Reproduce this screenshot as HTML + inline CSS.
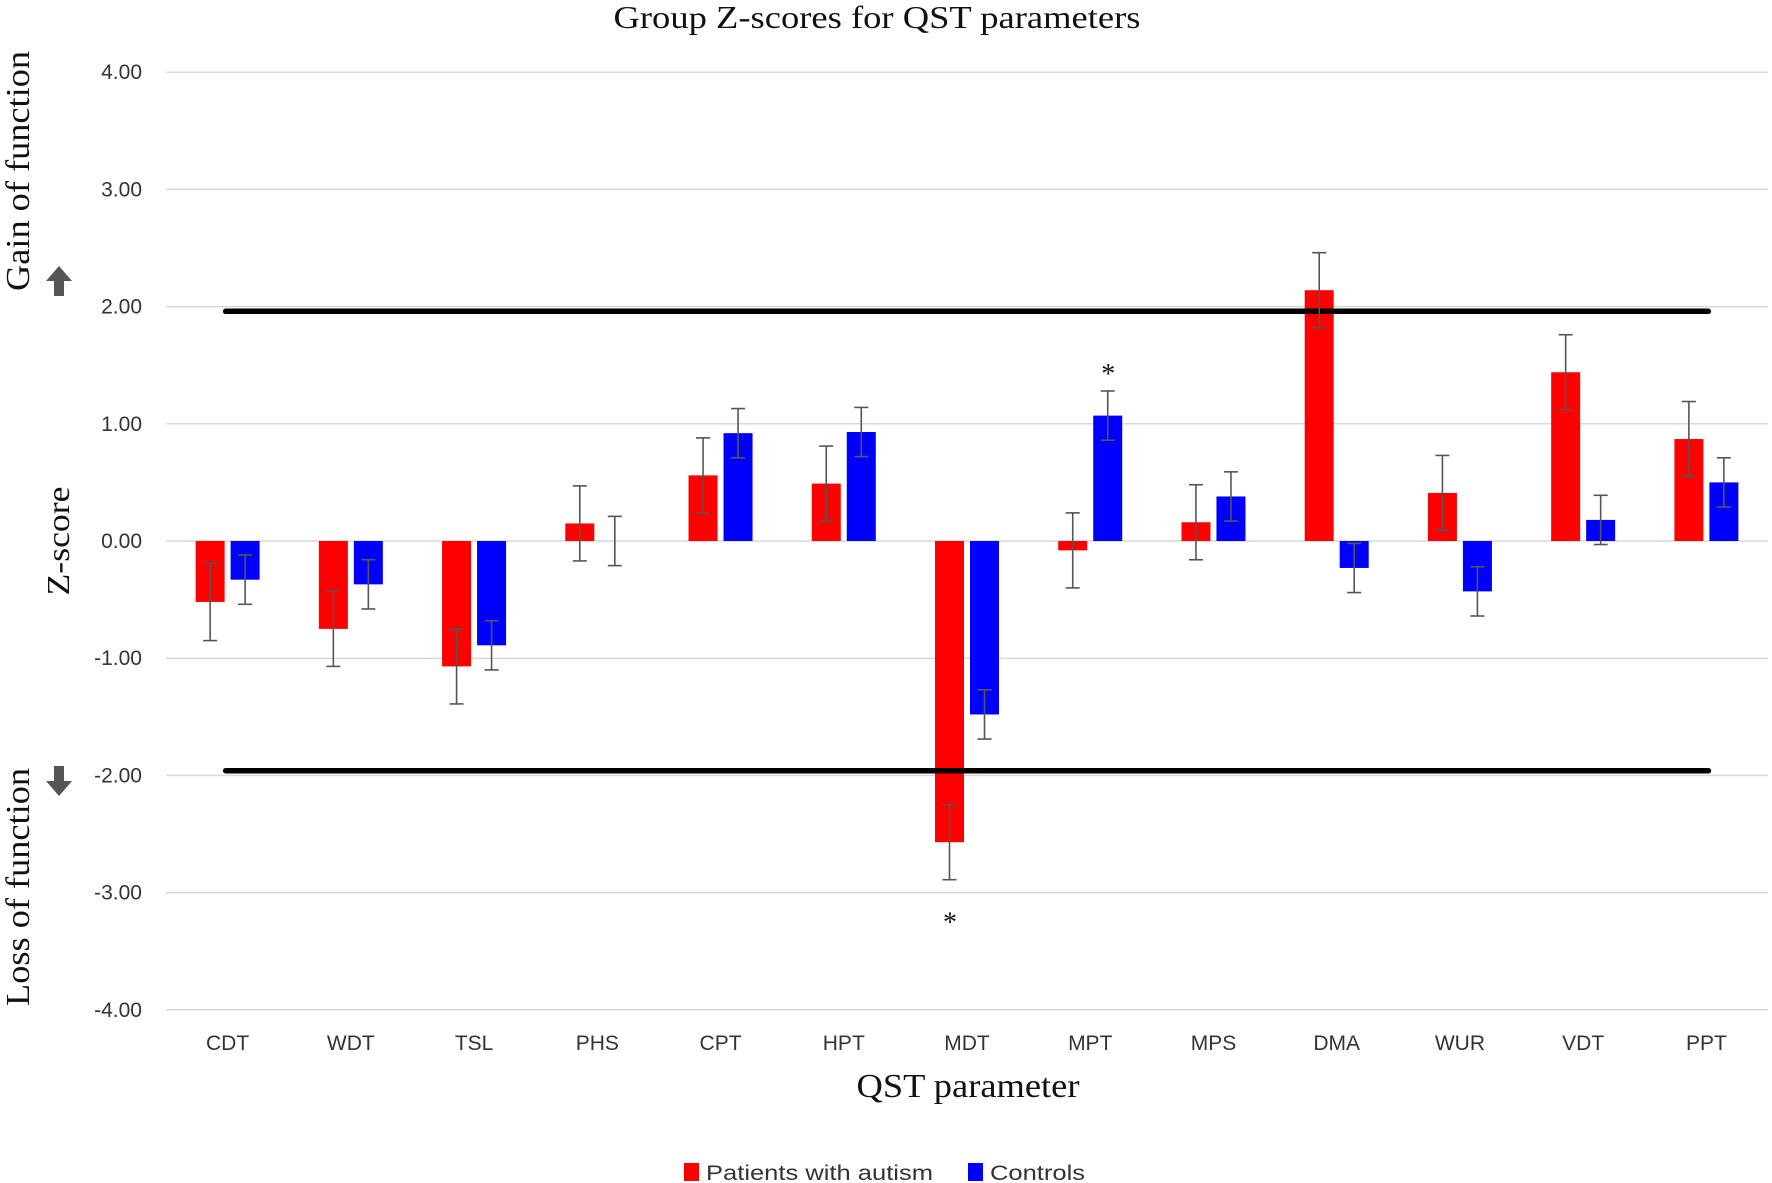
<!DOCTYPE html>
<html><head><meta charset="utf-8"><style>
html,body{margin:0;padding:0;background:#fff;}
svg{display:block;}
.tk{font-family:"Liberation Sans",sans-serif;font-size:21px;fill:#333;}
.sr{font-family:"Liberation Serif",serif;fill:#111;}
</style></head><body>
<svg id="chart" width="1772" height="1183" viewBox="0 0 1772 1183" xmlns="http://www.w3.org/2000/svg">
<text x="877" y="28" text-anchor="middle" class="sr" font-size="32" textLength="527" lengthAdjust="spacingAndGlyphs">Group Z-scores for QST parameters</text>
<text transform="translate(29,171) rotate(-90)" text-anchor="middle" class="sr" font-size="34" textLength="240" lengthAdjust="spacingAndGlyphs">Gain of function</text>
<text transform="translate(29,887) rotate(-90)" text-anchor="middle" class="sr" font-size="34" textLength="238" lengthAdjust="spacingAndGlyphs">Loss of function</text>
<text transform="translate(69,541) rotate(-90)" text-anchor="middle" class="sr" font-size="32" textLength="109" lengthAdjust="spacingAndGlyphs">Z-score</text>
<g><polygon points="59,266 72,281 64,281 64,296 54,296 54,281 46,281" fill="#555"/></g>
<g><polygon points="59,796 72,781 64,781 64,766 54,766 54,781 46,781" fill="#555"/></g>
<g id="grid"></g><g id="bars"></g><g id="thresh"></g><g id="errs"></g><g id="xl"></g>
<text x="968" y="1097" text-anchor="middle" class="sr" font-size="34" textLength="223" lengthAdjust="spacingAndGlyphs">QST parameter</text>
<g>
<g><rect x="684" y="1163" width="15" height="18" fill="#ff0000"/><text x="706" y="1180" class="tk" font-size="22" textLength="227" lengthAdjust="spacingAndGlyphs">Patients with autism</text></g>
<g><rect x="968" y="1163" width="15" height="18" fill="#0000ff"/><text x="990" y="1180" class="tk" font-size="22" textLength="95" lengthAdjust="spacingAndGlyphs">Controls</text></g>
</g>
</svg>
<script>
const categories=["CDT","WDT","TSL","PHS","CPT","HPT","MDT","MPT","MPS","DMA","WUR","VDT","PPT"];
const patients=[-0.52,-0.75,-1.07,0.15,0.56,0.49,-2.57,-0.08,0.16,2.14,0.41,1.44,0.87];
const patientsErr=[0.33,0.32,0.32,0.32,0.32,0.32,0.32,0.32,0.32,0.32,0.32,0.32,0.32];
const controls=[-0.33,-0.37,-0.89,0.0,0.92,0.93,-1.48,1.07,0.38,-0.23,-0.43,0.18,0.50];
const controlsErr=[0.21,0.21,0.21,0.21,0.21,0.21,0.21,0.21,0.21,0.21,0.21,0.21,0.21];
const yTicks=[4,3,2,1,0,-1,-2,-3,-4];
const thresholds=[1.96,-1.96];
const NS="http://www.w3.org/2000/svg";
const plotL=166,plotR=1768,y0=541,unit=117.2;
const band=(plotR-plotL)/categories.length;
const y=v=>y0-v*unit;
const xc=i=>plotL+band*(i+0.5);
function mk(tag,attrs,parent){const e=document.createElementNS(NS,tag);for(const k in attrs)e.setAttribute(k,attrs[k]);document.getElementById(parent).appendChild(e);return e;}
yTicks.forEach(t=>{
 const l=mk('line',{x1:plotL,x2:plotR,y1:y(t),y2:y(t),stroke:'#d9d9d9','stroke-width':1.5},'grid');
 
 
 const tx=mk('text',{x:142,y:y(t)+7,'text-anchor':'end',class:'tk'},'grid');
 tx.textContent=t.toFixed(2);
 
 
});
const bw=29;
function bar(i,v,e,col,off,name){
 const top=Math.min(y(v),y0),h=Math.abs(y(v)-y0);
 const r=mk('rect',{x:xc(i)+off,y:top,width:bw,height:h,fill:col},'bars');
 
 
 const cx=xc(i)+off+bw/2;
 const g=mk('g',{stroke:'#555','stroke-width':1.6},'errs');
 
 
 const a=document.createElementNS(NS,'line');a.setAttribute('x1',cx);a.setAttribute('x2',cx);a.setAttribute('y1',y(v+e));a.setAttribute('y2',y(v-e));g.appendChild(a);
 [v+e,v-e].forEach(q=>{const c=document.createElementNS(NS,'line');c.setAttribute('x1',cx-7);c.setAttribute('x2',cx+7);c.setAttribute('y1',y(q));c.setAttribute('y2',y(q));g.appendChild(c);});
}
categories.forEach((c,i)=>{
 bar(i,patients[i],patientsErr[i],'#ff0000',-32,'bar-patients-'+c.toLowerCase());
 bar(i,controls[i],controlsErr[i],'#0000ff',3,'bar-controls-'+c.toLowerCase());
 const t=mk('text',{x:xc(i),y:1050,'text-anchor':'middle',class:'tk','font-size':'22'},'xl');
 t.textContent=c;
 
 
});
thresholds.forEach(v=>{
 const l=mk('line',{x1:xc(0)-2,x2:xc(categories.length-1)+2,y1:y(v),y2:y(v),stroke:'#000','stroke-width':5.5,'stroke-linecap':'round'},'thresh');
 
 
});
const s1=mk('text',{x:xc(7)+18,y:y(1.45)+12,'text-anchor':'middle',class:'sr','font-size':'28'},'xl');
s1.textContent='*';


const s2=mk('text',{x:xc(6)-17,y:y(-3.23)+12,'text-anchor':'middle',class:'sr','font-size':'28'},'xl');
s2.textContent='*';


</script>
</body></html>
